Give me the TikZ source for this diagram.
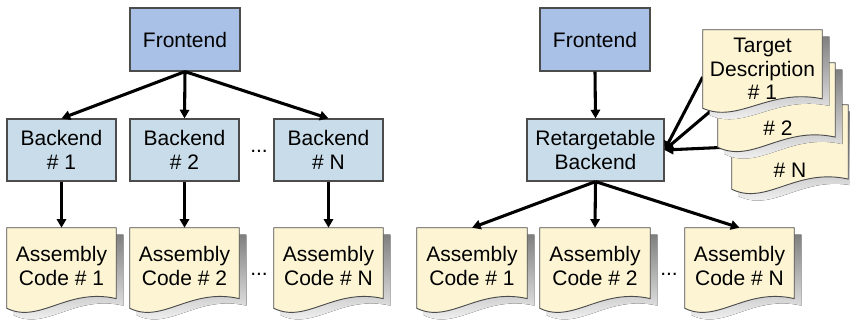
\documentclass[tikz,border=0pt]{standalone}
\usepackage{fontspec}
\setmainfont{Liberation Sans}
\usetikzlibrary{calc,arrows.meta}

\definecolor{feblue}{HTML}{A9C1E7}
\definecolor{beblue}{HTML}{C9DCE9}
\definecolor{docfill}{HTML}{FCF4D3}
\definecolor{edge}{HTML}{4C4C4C}
\definecolor{shade}{HTML}{9A9A9A}

\tikzset{
  lbl/.style={font=\fontsize{15.75pt}{17.5pt}\selectfont, align=center, inner sep=0pt},
  box/.style={lbl, draw=edge, line width=0.9pt},
  front/.style={box, fill=feblue, minimum width=82.5pt, minimum height=47.25pt},
  back/.style={box, fill=beblue, minimum height=46.5pt},
  docarea/.style={inner sep=0pt, minimum height=60pt},
  docline/.style={draw=edge, line width=0.7pt, fill=docfill},
  link/.style={line width=2.3pt, -{Triangle[length=6.5pt,width=7pt]}},
}

% outline of a page with a wavy lower edge; \x1,\y1 = top left, \x2,\y2 = lower left corner
\newcommand\pageoutline[2]{%
  ({\x1+#1},{\y1+#2}) -- ({\x2+#1},{\y1+#2}) -- ({\x2+#1},{\y2+0.12*\n2+#2})
  .. controls ({\x1+0.55*\n1+#1},{\y2+0.26*\n2+#2}) and ({\x1+0.3*\n1+#1},{\y2-0.2*\n2+#2})
  .. ({\x1+#1},{\y2+#2}) -- cycle}

% shadow and page for an (empty) named node
\newcommand\drawpage[1]{%
  \fill[shade] let \p1=(#1.north west), \p2=(#1.south east),
    \n1={\x2-\x1}, \n2={\y1-\y2} in \pageoutline{5.25pt}{-5.25pt};
  \path[docline] let \p1=(#1.north west), \p2=(#1.south east),
    \n1={\x2-\x1}, \n2={\y1-\y2} in \pageoutline{0pt}{0pt};
}

\begin{document}
\begin{tikzpicture}[x=0.75pt, y=-0.75pt]
  \useasboundingbox (0,0) rectangle (850,320);

  % ---------- one backend per target ----------
  \node[front] (feA) at (185,39.5) {Frontend};
  \node[back, minimum width=81.75pt] (beA1) at (61.5,150) {Backend\\\# 1};
  \node[back, minimum width=81.75pt] (beA2) at (184.5,150) {Backend\\\# 2};
  \node[back, minimum width=81.75pt] (beA3) at (328.5,150) {Backend\\\# N};
  \node[lbl, anchor=base] (dotsA) at (259,153) {...};

  \node[docarea, minimum width=81.75pt] (asmA1) at (61.5,268) {};
  \node[docarea, minimum width=81.75pt] (asmA2) at (184.5,268) {};
  \node[docarea, minimum width=81.75pt] (asmA3) at (328.5,268) {};
  \drawpage{asmA1}\drawpage{asmA2}\drawpage{asmA3}
  \node[lbl] (asmA1t) at ([yshift=1.5]asmA1.center) {Assembly\\Code \# 1};
  \node[lbl] (asmA2t) at ([yshift=1.5]asmA2.center) {Assembly\\Code \# 2};
  \node[lbl] (asmA3t) at ([yshift=1.5]asmA3.center) {Assembly\\Code \# N};
  \node[lbl, anchor=base] (dotsB) at (259,276) {...};

  \draw[link] (feA.south) -- (beA1.north);
  \draw[link] (feA.south) -- (beA2.north);
  \draw[link] (feA.south) -- (beA3.north);
  \draw[link] (beA1.south) -- (asmA1.north);
  \draw[link] (beA2.south) -- (asmA2.north);
  \draw[link] (beA3.south) -- (asmA3.north);

  % ---------- one retargetable backend ----------
  \node[front] (feB) at (595,39.5) {Frontend};
  \node[back, minimum width=102.75pt] (rb) at (595.5,150) {Retargetable\\Backend};

  \node[docarea, minimum width=89.25pt, minimum height=58.5pt] (td1) at (762.5,69) {};
  \node[docarea, minimum width=87.75pt, minimum height=63pt] (td2) at (776.5,105) {};
  \node[docarea, minimum width=87pt, minimum height=63pt] (tdn) at (790,147) {};

  \draw[link] ([yshift=-6]td1.west) -- (rb.east);
  \draw[link] (td2.west) -- (rb.east);
  \draw[link] (tdn.west) -- (rb.east);

  \drawpage{tdn}\drawpage{td2}\drawpage{td1}
  \node[lbl] (td1t) at (td1.center) {Target\\Description\\\# 1};
  \node[lbl] (td2t) at (778,128) {\# 2};
  \node[lbl] (tdnt) at (790,170) {\# N};

  \node[docarea, minimum width=82.5pt] (asmB1) at (472,268) {};
  \node[docarea, minimum width=82.5pt] (asmB2) at (595,268) {};
  \node[docarea, minimum width=81.75pt] (asmB3) at (739.5,268) {};
  \drawpage{asmB1}\drawpage{asmB2}\drawpage{asmB3}
  \node[lbl] (asmB1t) at ([yshift=1.5]asmB1.center) {Assembly\\Code \# 1};
  \node[lbl] (asmB2t) at ([yshift=1.5]asmB2.center) {Assembly\\Code \# 2};
  \node[lbl] (asmB3t) at ([yshift=1.5]asmB3.center) {Assembly\\Code \# N};
  \node[lbl, anchor=base] (dotsC) at (669,276) {...};

  \draw[link] (feB.south) -- (rb.north);
  \draw[link] (rb.south) -- (asmB1.north);
  \draw[link] (rb.south) -- (asmB2.north);
  \draw[link] (rb.south) -- (asmB3.north);
\end{tikzpicture}
\end{document}
